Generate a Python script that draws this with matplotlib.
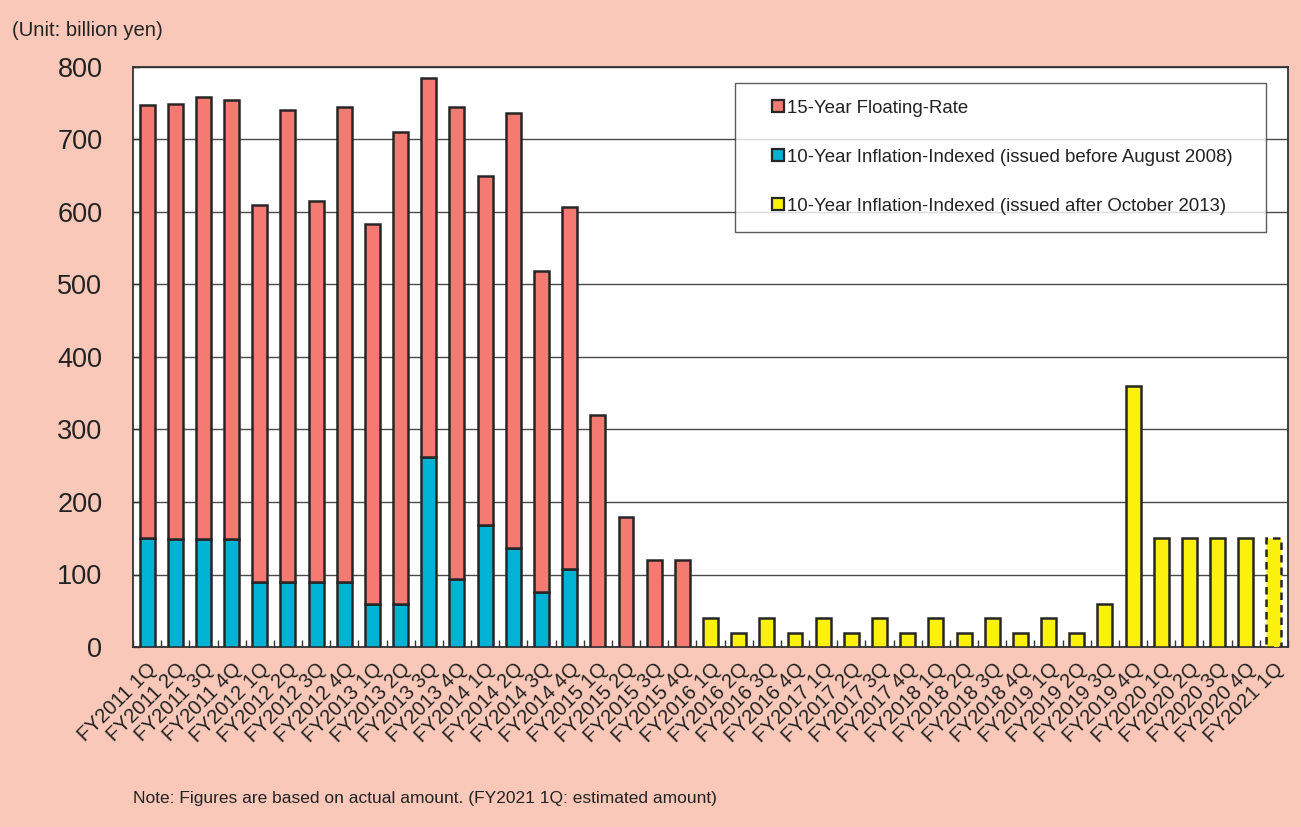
import matplotlib
matplotlib.use("Agg")
import matplotlib.pyplot as plt
from matplotlib.lines import Line2D
import numpy as np

plt.rcParams['font.family'] = ['Liberation Sans', 'DejaVu Sans']

categories = [f"FY{y} {q}Q" for y in range(2011, 2021) for q in range(1, 5)] + ["FY2021 1Q"]

inflation_old = [151, 149, 149, 149, 90, 90, 90, 90, 60, 60, 262, 94, 168, 136, 76, 107,
                 0, 0, 0, 0, 0, 0, 0, 0, 0, 0, 0, 0, 0, 0, 0, 0, 0, 0, 0, 0, 0, 0, 0, 0, 0]
floating = [597, 600, 610, 605, 520, 651, 525, 655, 523, 651, 523, 651, 481, 601, 442, 500,
            320, 180, 120, 120, 0, 0, 0, 0, 0, 0, 0, 0, 0, 0, 0, 0, 0, 0, 0, 0, 0, 0, 0, 0, 0]
inflation_new = [0] * 20 + [40, 20, 40, 20, 40, 20, 40, 20, 40, 20, 40, 20, 40, 20, 60, 360,
                            150, 150, 150, 150, 150]
estimated = ["FY2021 1Q"]

series_labels = ["15-Year Floating-Rate",
                 "10-Year Inflation-Indexed (issued before August 2008)",
                 "10-Year Inflation-Indexed (issued after October 2013)"]

BG = '#F9C8B9'
RED = '#F47A72'
BLUE = '#00B2D3'
YELLOW = '#FCF10C'
EDGE = '#262626'

fig = plt.figure(figsize=(13.01, 8.27), dpi=100, facecolor=BG)
ax = fig.add_axes([133/1301, 1 - 647/827, (1288-133)/1301, (647-67)/827])
ax.set_facecolor('white')

x = np.arange(len(categories))
w = 0.53
lw = 1.8
old = np.array(inflation_old, float)
flt = np.array(floating, float)
new = np.array(inflation_new, float)
est = np.array([c in estimated for c in categories])

m = old > 0
ax.bar(x[m], old[m], w, color=BLUE, edgecolor=EDGE, linewidth=lw, zorder=3)
m = flt > 0
ax.bar(x[m], flt[m], w, bottom=old[m], color=RED, edgecolor=EDGE, linewidth=lw, zorder=3)
m = (new > 0) & ~est
ax.bar(x[m], new[m], w, color=YELLOW, edgecolor=EDGE, linewidth=lw, zorder=3)
m = (new > 0) & est
ax.bar(x[m], new[m], w, color=YELLOW, edgecolor=EDGE, linewidth=lw, linestyle=(0, (3, 2)), zorder=3)

ax.set_xlim(-0.5, len(categories) - 0.5)
ax.set_ylim(0, 800)
ax.set_yticks(np.arange(0, 801, 100))
ax.yaxis.grid(True, color='#4a4a4a', linewidth=1.0, zorder=0)
ax.set_axisbelow(True)
ax.tick_params(axis='y', direction='in', length=5, width=1, color='#333', labelsize=19.5,
               labelcolor='#222', pad=22)
ax.set_xticks(x)
ax.set_xticklabels(categories, rotation=45, ha='right', rotation_mode='anchor',
                   fontsize=14.6, color='#222')
ax.tick_params(axis='x', length=0, pad=9)
ax.set_xticks(np.arange(-0.5, len(categories), 1), minor=True)
ax.tick_params(axis='x', which='minor', direction='in', length=5, width=1, color='#333')
for s in ax.spines.values():
    s.set_color('#333')
    s.set_linewidth(1.3)

handles = [Line2D([], [], marker='s', markersize=8, markerfacecolor=c, markeredgecolor=EDGE,
                  markeredgewidth=1.6, linestyle='none') for c in (RED, BLUE, YELLOW)]
leg = fig.legend(handles, series_labels, loc='upper left',
                 bbox_to_anchor=(735/1301, 1 - 83/827 - 0.01, 531/1301, 0.01), mode='expand',
                 fontsize=13.4, frameon=True, fancybox=False, handlelength=2.8,
                 handletextpad=-0.9, labelspacing=1.72, borderpad=0.9, borderaxespad=0)
leg.get_frame().set_edgecolor('#333')
leg.get_frame().set_linewidth(1.0)
for t in leg.get_texts():
    t.set_color('#222')

fig.text(12/1301, 1 - 30/827, "(Unit: billion yen)", fontsize=14.6, color='#222', va='center')
fig.text(133/1301, 1 - 798/827, "Note: Figures are based on actual amount. (FY2021 1Q: estimated amount)",
         fontsize=12.5, color='#222', va='center')

fig.savefig('out.png', dpi=100, facecolor=BG)
